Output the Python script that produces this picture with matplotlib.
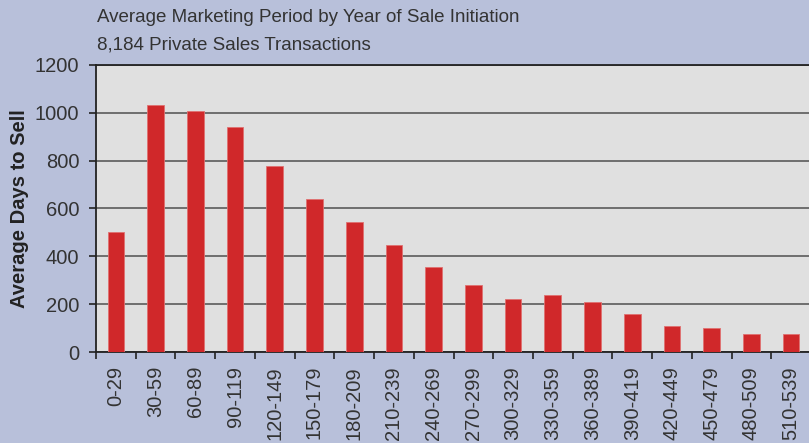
import matplotlib
matplotlib.use("Agg")
import matplotlib.pyplot as plt
import numpy as np

categories = ["0-29", "30-59", "60-89", "90-119", "120-149", "150-179", "180-209",
              "210-239", "240-269", "270-299", "300-329", "330-359", "360-389",
              "390-419", "420-449", "450-479", "480-509", "510-539"]
values = [502, 1031, 1007, 942, 776, 638, 542, 446, 354, 280, 221, 237, 209,
          159, 109, 100, 75, 74]
yticks = [0, 200, 400, 600, 800, 1000, 1200]
title1 = "Average Marketing Period by Year of Sale Initiation"
title2 = "8,184 Private Sales Transactions"
ylabel = "Average Days to Sell"

plt.rcParams['font.family'] = ['Liberation Sans', 'DejaVu Sans']

W, H = 809, 443
fig = plt.figure(figsize=(W / 100, H / 100), dpi=100)
fig.patch.set_facecolor('#b8c0da')

left, right, top, bottom = 96, 811, 65, 352
ax = fig.add_axes([left / W, 1 - bottom / H, (right - left) / W, (bottom - top) / H])
ax.set_facecolor('#e0e0e0')

x = np.arange(len(categories))
ax.bar(x, values, width=0.42, color='#d0282a', edgecolor='#e07070', linewidth=0.6, zorder=3)

ax.set_xlim(-0.5, len(categories) - 0.5)
ax.set_ylim(0, 1200)
ax.set_yticks(yticks)
ax.set_yticklabels([str(v) for v in yticks], fontsize=14.5, color='#333333')
ax.yaxis.grid(True, color='#666666', linewidth=1.3, zorder=1)
ax.set_axisbelow(True)

ax.set_xticks(x)
ax.set_xticklabels(categories, rotation=90, fontsize=14.5, color='#333333')
ax.set_xticks(np.arange(len(categories) + 1) - 0.5, minor=True)
ax.tick_params(axis='x', which='major', length=0, pad=10)
ax.tick_params(axis='x', which='minor', length=5, width=1.2, color='#222222', direction='out')
ax.tick_params(axis='y', length=5, width=1.2, color='#222222', direction='out', pad=7)

for s in ['left', 'bottom', 'top']:
    ax.spines[s].set_color('#222222')
    ax.spines[s].set_linewidth(1.3)
ax.spines['right'].set_visible(False)

ax.set_ylabel(ylabel, fontsize=14.5, fontweight='bold', color='#222222', labelpad=4)

fig.text(97 / W, 1 - 17 / H, title1, fontsize=13.5, color='#333333', va='center', ha='left')
fig.text(97 / W, 1 - 45 / H, title2, fontsize=13.5, color='#333333', va='center', ha='left')

fig.savefig("out.png", dpi=100, facecolor=fig.get_facecolor())
